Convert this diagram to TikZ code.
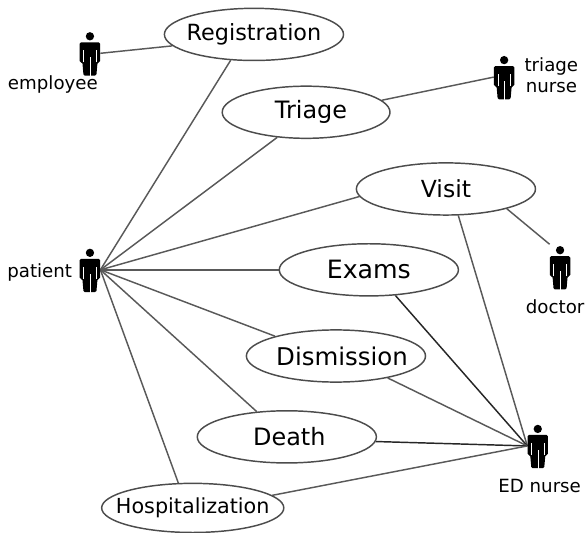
\documentclass[tikz,border=0pt]{standalone}
\usepackage{fontspec}
\setmainfont{DejaVu Sans}
\usetikzlibrary{positioning, shapes.geometric, backgrounds}

% label that does not widen its ellipse
\newcommand{\tasktext}[2]{\makebox[0pt]{\fontsize{#1}{20}\selectfont #2}}

\tikzset{
  task/.style={ellipse, draw=black!70, line width=1.1pt, fill=white, inner sep=0pt,
    minimum width=4.74cm, minimum height=1.38cm},
  actor/.style={rectangle, inner sep=0pt, minimum width=0.54cm, minimum height=1.2cm,
    path picture={
      \begin{scope}[shift={(path picture bounding box.center)}]
        \fill (0,0.45) circle (0.11cm);
        \fill[rounded corners=1pt] (-0.27,0.29) -- (0.27,0.29) -- (0.27,-0.24) -- (0.2,-0.24)
          -- (0.17,-0.59) -- (-0.17,-0.59) -- (-0.2,-0.24) -- (-0.27,-0.24) -- cycle;
        \draw[white, line width=0.3pt] (0,-0.6) -- (0,-0.1)
          (-0.17,-0.24) -- (-0.17,0.08) (0.17,-0.24) -- (0.17,0.08);
      \end{scope}
    }},
  role/.style={align=center, inner sep=0pt, font=\fontsize{13.7}{15.5}\selectfont},
  link/.style={draw=black!65, line width=1.1pt},
}

\begin{document}
\begin{tikzpicture}[on grid]
  \useasboundingbox (0,0) rectangle (15.48,-14.10);

  \node [task] (reg) at (6.72,-0.91) {\tasktext{16.8}{Registration}};
  \node [task, minimum width=4.44cm, below right=2.06cm and 1.38cm of reg] (triage) {\tasktext{18}{\hspace{0.26cm}Triage}};
  \node [task, below right=2.03cm and 3.7cm of triage] (visit) {\tasktext{17.7}{Visit}};
  \node [task, below left=2.14cm and 2.04cm of visit] (exams) {\tasktext{19}{Exams}};
  \node [task, below left=2.28cm and 0.87cm of exams] (dismiss) {\tasktext{18.4}{\hspace{0.32cm}Dismission}};
  \node [task, below left=2.14cm and 1.3cm of dismiss] (death) {\tasktext{18}{\hspace{0.13cm}Death}};
  \node [task, minimum width=4.82cm, minimum height=1.3cm,
    below left=1.88cm and 2.49cm of death] (hosp) {\tasktext{15.6}{Hospitalization}};

  \node [actor, left=7.38cm of exams] (patient) {};
  \node [actor, below left=0.5cm and 4.34cm of reg] (employee) {};
  \node [actor, above right=0.93cm and 5.24cm of triage] (tnurse) {};
  \node [actor, below right=2.07cm and 3.02cm of visit] (doctor) {};
  \node [actor, below right=2.38cm and 5.34cm of dismiss] (ednurse) {};

  \node [role, below left=0.07cm and 1.33cm of patient] (patientname) {patient};
  \node [role, below left=0.83cm and 0.98cm of employee] (employeename) {employee};
  \node [role, above right=0.05cm and 1.25cm of tnurse] (tnursename) {triage\\nurse};
  \node [role, below left=1.05cm and 0.13cm of doctor] (doctorname) {doctor};
  \node [role, below right=1.05cm and 0.05cm of ednurse] (ednursename) {ED nurse};

  \begin{scope}[on background layer]
    \draw [link] (employee.east) -- (reg.188);
    \draw [link] (tnurse.west) -- (triage.9);
    \draw [link] (patient.east) -- (reg.228);
    \draw [link] (patient.east) -- (triage.221);
    \draw [link] (patient.east) -- (visit.185);
    \draw [link] (patient.east) -- (exams.west);
    \draw [link] (patient.east) -- (dismiss.162);
    \draw [link] (patient.east) -- (death.140);
    \draw [link] (patient.east) -- (hosp.120);
    \draw [link] (doctor.north west) -- (visit.-18);
    \draw [link] (ednurse.west) -- (visit.-65);
    \draw [link, draw=black!85] (ednurse.west) -- (exams.-44);
    \draw [link] (ednurse.west) -- (dismiss.-23);
    \draw [link, draw=black!85] (ednurse.west) -- (death.-3);
    \draw [link] (ednurse.west) -- (hosp.9);
  \end{scope}
\end{tikzpicture}
\end{document}
